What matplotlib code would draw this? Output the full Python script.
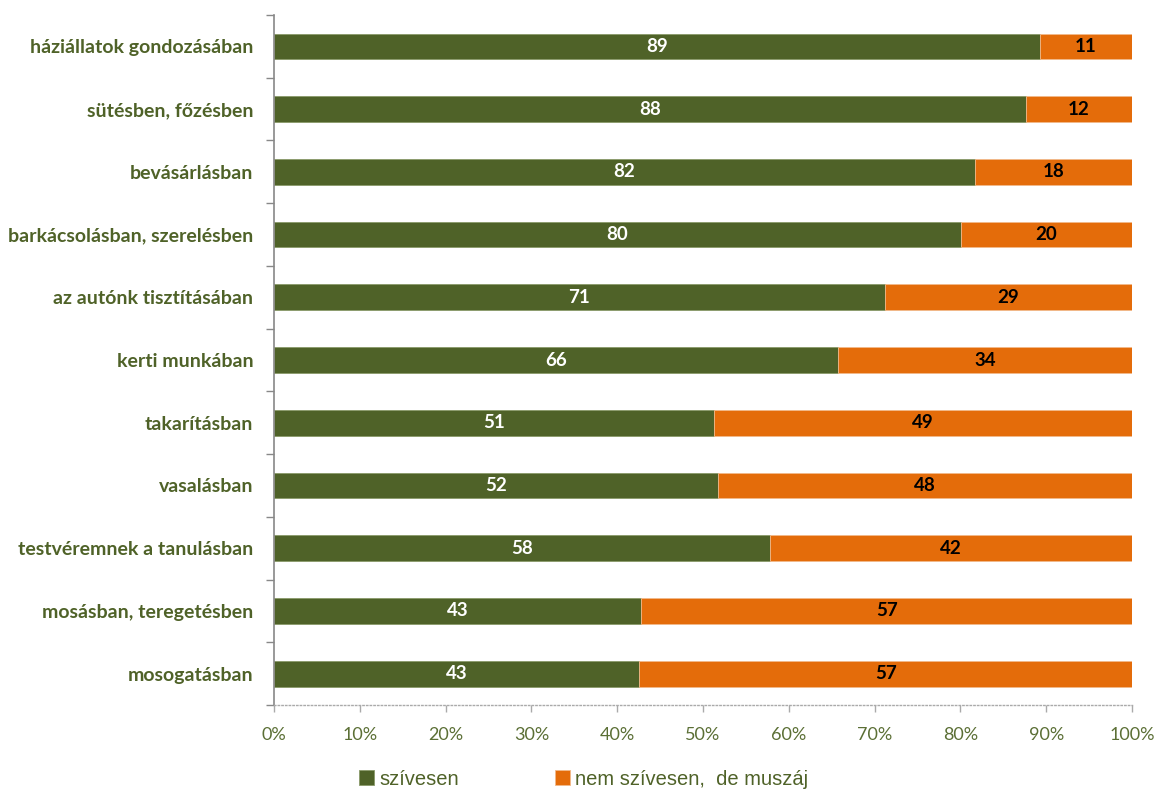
import numpy as np
import matplotlib.pyplot as plt
from matplotlib.ticker import FixedLocator, PercentFormatter

categories = [
    'háziállatok gondozásában',
    'sütésben, főzésben',
    'bevásárlásban',
    'barkácsolásban, szerelésben',
    'az autónk tisztításában',
    'kerti munkában',
    'takarításban',
    'vasalásban',
    'testvéremnek a tanulásban',
    'mosásban, teregetésben',
    'mosogatásban',
]
szivesen = [89.3, 87.6, 81.7, 80.1, 71.2, 65.7, 51.3, 51.7, 57.8, 42.8, 42.6]
szivesen_labels = [89, 88, 82, 80, 71, 66, 51, 52, 58, 43, 43]
muszaj_labels = [11, 12, 18, 20, 29, 34, 49, 48, 42, 57, 57]
series_names = ['szívesen', 'nem szívesen,  de muszáj']

green = '#4F6228'
orange = '#E46C0A'
text_green = '#4F6228'
tick_green = '#5B6F35'

muszaj = [100 - v for v in szivesen]

fig = plt.figure(figsize=(11.59, 7.91), dpi=100)
ax = fig.add_axes([0.2364, 0.1087, 0.7403, 0.8723])

y = np.arange(len(categories))
h = 0.41
b1 = ax.barh(y, szivesen, height=h, color=green, edgecolor='#8a9a6a', linewidth=0.6)
b2 = ax.barh(y, muszaj, left=szivesen, height=h, color=orange, edgecolor='#f2b98a', linewidth=0.6)

for i in range(len(categories)):
    ax.text(szivesen[i] / 2, y[i], str(szivesen_labels[i]), ha='center', va='center',
            color='white', fontsize=13.5, fontweight='bold', family='Lato')
    ax.text(szivesen[i] + muszaj[i] / 2, y[i], str(muszaj_labels[i]), ha='center', va='center',
            color='black', fontsize=13.5, fontweight='bold', family='Lato')

ax.set_xlim(0, 100)
ax.set_ylim(len(categories) - 0.5, -0.5)

ax.set_yticks(y)
ax.set_yticklabels(categories, fontsize=14, fontweight='bold', color=text_green, family='Lato')
ax.yaxis.set_minor_locator(FixedLocator(np.arange(-0.5, len(categories), 1)))
ax.tick_params(axis='y', which='major', length=0, pad=15)
ax.tick_params(axis='y', which='minor', length=6, color='#888888', width=1)

ax.set_xticks(np.arange(0, 101, 10))
ax.xaxis.set_major_formatter(PercentFormatter(decimals=0))
ax.tick_params(axis='x', length=5, color='#aaaaaa', width=1, labelsize=13,
               labelcolor=tick_green, pad=11)
for t in ax.xaxis.get_major_ticks():
    t.tick1line.set_linestyle(':')
for lab in ax.get_xticklabels():
    lab.set_family('Lato')

for s in ['top', 'right']:
    ax.spines[s].set_visible(False)
ax.spines['left'].set_color('#888888')
ax.spines['left'].set_linewidth(1.2)
ax.spines['bottom'].set_color('#aaaaaa')
ax.spines['bottom'].set_linestyle(':')
ax.spines['bottom'].set_linewidth(1)

leg = fig.legend([b1, b2], series_names, loc='upper left', bbox_to_anchor=(0.303, 0.037),
                 ncol=2, frameon=False, handlelength=0.75, handleheight=0.75,
                 handletextpad=0.25, columnspacing=4.75, borderaxespad=0,
                 prop={'family': 'Liberation Sans', 'size': 14.5})
for t in leg.get_texts():
    t.set_color(text_green)

fig.savefig('out.png', dpi=100)
